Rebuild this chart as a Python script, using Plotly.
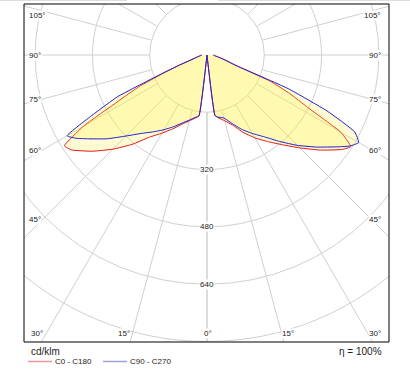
import numpy as np
import plotly.graph_objects as go

# ---------------- data ----------------
GAMMA = [0, 7.5, 10, 15, 20, 25, 30, 35, 40, 45, 50, 55, 57.5, 60, 62.5, 65, 67.5, 70, 75, 80, 85, 90]
I_C0 = [0, 170, 178, 190, 208, 238, 267, 295, 327, 367, 413, 460, 476, 432, 317, 255, 190, 85, 48, 30, 21, 18]
I_C180 = [0, 172, 178, 190, 206, 228, 252, 280, 326, 372, 418, 462, 472, 400, 280, 210, 128, 78, 36, 24, 18, 15]
I_C90 = [0, 170, 176, 182, 203, 229, 253, 279, 315, 357, 400, 447, 473, 489, 465, 370, 245, 90, 50, 32, 22, 18]
I_C270 = [0, 170, 176, 188, 202, 221, 241, 262, 286, 320, 364, 408, 433, 451, 355, 275, 138, 81, 37, 25, 18, 15]

SERIES_NAMES = ["C0 - C180", "C90 - C270"]
GRID_RADII = [160, 320, 480, 640, 800, 960]
RADIAL_TICKS = [320, 480, 640]
GRID_ANGLES = [0, 15, 30, 45, 60, 75, 90, 105, 120, 135, 150, 165, 180]
SIDE_ANGLE_LABELS = ["105°", "90°", "75°", "60°", "45°"]
BOTTOM_ANGLE_LABELS = ["30°", "15°", "0°", "15°", "30°"]
UNIT = "cd/klm"
EFFICIENCY = "η = 100%"

# ---------------- layout geometry (pixels) ----------------
W, H = 410, 374
L, R, T, B = 24, 389, 4, 342          # plot frame
CX, CY = 207, 55                       # light centre
K = 57.3 / 160.0                       # px per cd/klm

xr = [-(CX - L) / K, (R - CX) / K]
yr = [-(B - CY) / K, (CY - T) / K]


def px(x):
    return (x - L) / (R - L)


def py(y):
    return (B - y) / (B - T)


GRID_COLOR = "rgb(208,208,208)"
TEXT_COLOR = "#222222"
FONT = "Liberation Sans, Arial, sans-serif"
RED = "rgb(228,20,20)"
BLUE = "rgb(30,30,215)"
FILL = "rgba(255,240,60,0.22)"


def half(I, side):
    g = np.radians(np.array(GAMMA, dtype=float))
    I = np.array(I, dtype=float)
    return side * I * np.sin(g), -I * np.cos(g)


def curve(left, right):
    xl, yl = half(left, -1)
    xr_, yr_ = half(right, 1)
    return np.concatenate([xl[::-1], xr_]), np.concatenate([yl[::-1], yr_])


fig = go.Figure()
for (left, right), name, col in [((I_C180, I_C0), SERIES_NAMES[0], RED),
                                  ((I_C270, I_C90), SERIES_NAMES[1], BLUE)]:
    x, y = curve(left, right)
    fig.add_trace(go.Scatter(x=x, y=y, mode="lines", name=name, fill="toself",
                             fillcolor=FILL,
                             line=dict(color=col, width=1, shape="spline", smoothing=0.4),
                             hoverinfo="skip", showlegend=False))

shapes = []
for r in GRID_RADII:
    shapes.append(dict(type="circle", xref="x", yref="y", x0=-r, x1=r, y0=-r, y1=r,
                       line=dict(color=GRID_COLOR, width=1), layer="below"))
r0 = GRID_RADII[0]
for a in GRID_ANGLES:
    t = np.radians(a)
    for side in (-1, 1):
        shapes.append(dict(type="line", xref="x", yref="y",
                           x0=side * r0 * np.sin(t), y0=-r0 * np.cos(t),
                           x1=side * 3000 * np.sin(t), y1=-3000 * np.cos(t),
                           line=dict(color=GRID_COLOR, width=1), layer="below"))
# frame
shapes.append(dict(type="rect", xref="paper", yref="paper", x0=0, x1=1, y0=0, y1=1,
                   line=dict(color="black", width=1)))
# thin grey rule along the very top of the image
for x0, x1 in [(0, 127), (218, 410)]:
    shapes.append(dict(type="line", xref="paper", yref="paper", x0=px(x0), x1=px(x1),
                       y0=py(0.5), y1=py(0.5), line=dict(color="rgb(222,222,222)", width=1)))
# legend samples
LEG_Y = 361.5
shapes.append(dict(type="line", xref="paper", yref="paper", x0=px(28), x1=px(52),
                   y0=py(LEG_Y), y1=py(LEG_Y), line=dict(color="rgb(236,150,158)", width=1.5)))
shapes.append(dict(type="line", xref="paper", yref="paper", x0=px(103), x1=px(127),
                   y0=py(LEG_Y), y1=py(LEG_Y), line=dict(color="rgb(160,160,228)", width=1.5)))

ann = []
small = dict(family=FONT, size=8, color=TEXT_COLOR)
for v in RADIAL_TICKS:
    ann.append(dict(x=0, y=-v, xref="x", yref="y", text=str(v), showarrow=False,
                    xanchor="center", yanchor="middle", font=small, bgcolor="white", borderpad=0))
SIDE_Y = [15, 55, 99, 150, 220]
for lab, yy in zip(SIDE_ANGLE_LABELS, SIDE_Y):
    ann.append(dict(x=px(27.5), y=py(yy), xref="paper", yref="paper", text=lab, showarrow=False,
                    xanchor="left", yanchor="middle", font=small, bgcolor="white", borderpad=0))
    ann.append(dict(x=px(382), y=py(yy), xref="paper", yref="paper", text=lab, showarrow=False,
                    xanchor="right", yanchor="middle", font=small, bgcolor="white", borderpad=0))
BOTTOM_X = [36.5, 124, 207.5, 288, 375]
for lab, xx in zip(BOTTOM_ANGLE_LABELS, BOTTOM_X):
    ann.append(dict(x=px(xx), y=py(333), xref="paper", yref="paper", text=lab, showarrow=False,
                    xanchor="center", yanchor="middle", font=small, bgcolor="white", borderpad=0))

ann.append(dict(x=px(28.5), y=py(351.5), xref="paper", yref="paper", text=UNIT, showarrow=False,
                xanchor="left", yanchor="middle", font=dict(family=FONT, size=10, color=TEXT_COLOR)))
ann.append(dict(x=px(384), y=py(351), xref="paper", yref="paper", text=EFFICIENCY, showarrow=False,
                xanchor="right", yanchor="middle", font=dict(family=FONT, size=10, color=TEXT_COLOR)))
ann.append(dict(x=px(53), y=py(LEG_Y), xref="paper", yref="paper", text=SERIES_NAMES[0], showarrow=False,
                xanchor="left", yanchor="middle", font=small))
ann.append(dict(x=px(128), y=py(LEG_Y), xref="paper", yref="paper", text=SERIES_NAMES[1], showarrow=False,
                xanchor="left", yanchor="middle", font=small))

fig.update_layout(
    width=W, height=H,
    margin=dict(l=L, r=W - R, t=T, b=H - B, pad=0),
    paper_bgcolor="white", plot_bgcolor="white",
    xaxis=dict(range=xr, visible=False, fixedrange=True),
    yaxis=dict(range=yr, visible=False, fixedrange=True),
    shapes=shapes, annotations=ann, showlegend=False,
)

fig.write_html("out.html", config={"displayModeBar": False},
               post_script="document.body.style.margin='0';document.body.style.padding='0';")
